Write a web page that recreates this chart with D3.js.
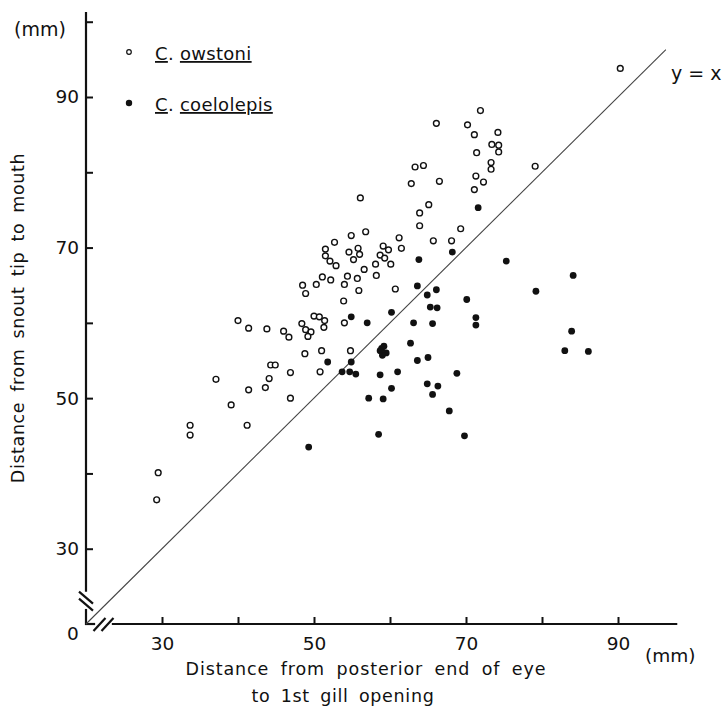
<!DOCTYPE html>
<html>
<head>
<meta charset="utf-8">
<script src="https://cdn.jsdelivr.net/npm/d3@7"></script>
<style>
  body { margin: 0; background: #fff; }
  svg text { font-family: "DejaVu Sans", sans-serif; fill: #111; }
</style>
</head>
<body>
<div id="chart"></div>
<script>
// C. owstoni (open circles): [eye-gill distance, snout-mouth distance] in mm
const owstoni = [
  [90.3, 93.8], [71.9, 88.2], [66.1, 86.5], [70.2, 86.3], [71.1, 85.0],
  [74.2, 85.3], [73.4, 83.7], [74.3, 83.6], [74.3, 82.7], [71.4, 82.6],
  [64.4, 80.9], [63.3, 80.7], [73.3, 81.3], [73.3, 80.4], [79.1, 80.8],
  [71.3, 79.5], [66.5, 78.8], [72.3, 78.7], [71.1, 77.7], [65.1, 75.7],
  [63.9, 74.6], [62.8, 78.5], [56.1, 76.6], [63.9, 72.9], [69.3, 72.5],
  [54.9, 71.6], [56.8, 72.1], [52.7, 70.7], [61.2, 71.3], [65.7, 70.9],
  [68.1, 70.9], [51.5, 69.8], [51.5, 68.9], [52.1, 68.2], [52.9, 67.6],
  [54.6, 69.4], [55.8, 69.9], [56.0, 69.1], [55.2, 68.4], [59.1, 70.2],
  [59.8, 69.7], [58.7, 69.0], [59.3, 68.6], [61.5, 69.9], [58.1, 67.8],
  [60.1, 67.8], [56.6, 67.1], [58.2, 66.3], [51.1, 66.1], [52.2, 65.7],
  [54.4, 66.2], [55.7, 65.9], [54.0, 65.1], [50.3, 65.1], [48.5, 65.0],
  [48.9, 63.9], [55.9, 64.3], [60.7, 64.5], [53.9, 62.9], [50.0, 60.9],
  [50.7, 60.8], [51.4, 60.3], [51.3, 59.4], [54.0, 60.0], [48.4, 59.9],
  [48.9, 59.1], [49.6, 58.8], [49.2, 58.2], [46.0, 58.9], [46.7, 58.1],
  [48.8, 55.9], [51.0, 56.3], [54.8, 56.3], [50.8, 53.5], [46.9, 53.4],
  [46.9, 50.0], [40.0, 60.3], [41.4, 59.3], [43.8, 59.2], [44.3, 54.4],
  [44.9, 54.4], [37.1, 52.5], [44.1, 52.6], [43.6, 51.4], [41.4, 51.1],
  [39.1, 49.1], [33.7, 46.4], [33.7, 45.1], [41.2, 46.4], [29.5, 40.1],
  [29.3, 36.5]
];

// C. coelolepis (filled circles)
const coelolepis = [
  [71.6, 75.3], [75.3, 68.2], [84.1, 66.3], [79.2, 64.2], [83.9, 58.9],
  [83.0, 56.3], [86.1, 56.2], [63.8, 68.4], [68.2, 69.4], [63.6, 64.9],
  [64.9, 63.7], [66.1, 64.4], [70.1, 63.1], [54.9, 60.8], [57.0, 60.0],
  [60.2, 61.4], [63.1, 60.0], [65.6, 59.9], [65.3, 62.1], [66.2, 62.0],
  [71.3, 60.7], [71.3, 59.7], [62.7, 57.3], [58.9, 56.6], [59.2, 56.9],
  [59.5, 56.0], [59.0, 55.7], [58.7, 56.3], [63.6, 55.0], [65.0, 55.4],
  [51.8, 54.8], [54.9, 54.8], [53.7, 53.5], [54.7, 53.5], [55.5, 53.2],
  [58.7, 53.1], [61.0, 53.5], [68.8, 53.3], [60.2, 51.3], [64.9, 51.9],
  [66.3, 51.6], [65.6, 50.5], [57.2, 50.0], [59.1, 49.9], [67.8, 48.3],
  [58.5, 45.2], [69.8, 45.0], [49.3, 43.5]
];

const xTicks = [30, 40, 50, 60, 70, 80, 90];
const yTicks = [30, 40, 50, 60, 70, 80, 90, 100];
const labelledTicks = [30, 50, 70, 90];
const identityLine = [[20, 20], [96.3, 96.3]];

const width = 724, height = 708;

const svg = d3.select("#chart")
  .append("svg")
    .attr("width", width)
    .attr("height", height);

// Scales (axes start at 20 mm, shown as a broken origin "0")
const xScale = d3.scaleLinear().domain([20, 90]).range([86, 618]);
const yScale = d3.scaleLinear().domain([20, 90]).range([624, 97]);

const fmt = d => labelledTicks.includes(d) ? d : "";

// Bottom axis
const bottomAxis = d3.axisBottom(xScale)
  .tickValues(xTicks)
  .tickSizeInner(-7)
  .tickSizeOuter(0)
  .tickPadding(9)
  .tickFormat(fmt);
const gx = svg.append("g")
  .attr("transform", `translate(0, ${yScale(20)})`)
  .call(bottomAxis);
gx.select(".domain").remove();
gx.selectAll(".tick line").attr("stroke", "#111").attr("stroke-width", 2);
gx.selectAll(".tick text").style("font-size", "18.5px").attr("dy", "0.9em");

// Left axis
const leftAxis = d3.axisLeft(yScale)
  .tickValues(yTicks)
  .tickSizeInner(-7)
  .tickSizeOuter(0)
  .tickPadding(7)
  .tickFormat(fmt);
const gy = svg.append("g")
  .attr("transform", `translate(${xScale(20)}, 0)`)
  .call(leftAxis);
gy.select(".domain").remove();
gy.selectAll(".tick line").attr("stroke", "#111").attr("stroke-width", 2);
gy.selectAll(".tick text").style("font-size", "18.5px");

// Axis lines with breaks near the origin
const axisStroke = g => g.attr("stroke", "#111").attr("stroke-width", 2.2).attr("fill", "none");
const x0 = xScale(20), y0 = yScale(20);
svg.append("line").call(axisStroke)
  .attr("x1", x0).attr("x2", x0).attr("y1", yScale(101.3)).attr("y2", yScale(24.3));
svg.append("line").call(axisStroke)
  .attr("x1", x0).attr("x2", x0).attr("y1", yScale(22.0)).attr("y2", y0 + 1);
svg.append("line").call(axisStroke)
  .attr("x1", x0 - 1).attr("x2", xScale(21.2)).attr("y1", y0).attr("y2", y0);
svg.append("line").call(axisStroke)
  .attr("x1", xScale(23.4)).attr("x2", xScale(97.8)).attr("y1", y0).attr("y2", y0);

// Break marks
[-3, 4].forEach(dy => {
  const cy = yScale(23.1) + dy;
  svg.append("line").call(axisStroke)
    .attr("x1", x0 - 7).attr("y1", cy - 6).attr("x2", x0 + 7).attr("y2", cy + 6);
});
[-4, 4].forEach(dx => {
  const cx = xScale(22.3) + dx;
  svg.append("line").call(axisStroke)
    .attr("x1", cx - 6).attr("y1", y0 + 7).attr("x2", cx + 6).attr("y2", y0 - 6);
});

svg.append("text")
  .attr("x", 73).attr("y", 640)
  .attr("text-anchor", "middle")
  .style("font-size", "18.5px")
  .text("0");

// y = x line
const line = d3.line().x(d => xScale(d[0])).y(d => yScale(d[1]));
svg.append("path")
  .attr("d", line(identityLine))
  .attr("fill", "none")
  .attr("stroke", "#444")
  .attr("stroke-width", 1.1);

svg.append("text")
  .attr("x", 671).attr("y", 80)
  .style("font-size", "19px")
  .text("y = x");

// Points
svg.append("g")
  .selectAll("circle")
  .data(owstoni)
  .join("circle")
    .attr("cx", d => xScale(d[0]))
    .attr("cy", d => yScale(d[1]))
    .attr("r", 2.9)
    .attr("fill", "#fff")
    .attr("stroke", "#111")
    .attr("stroke-width", 1.4);

svg.append("g")
  .selectAll("circle")
  .data(coelolepis)
  .join("circle")
    .attr("cx", d => xScale(d[0]))
    .attr("cy", d => yScale(d[1]))
    .attr("r", 3.4)
    .attr("fill", "#111");

// Units
svg.append("text")
  .attr("x", 14).attr("y", 36)
  .style("font-size", "19px")
  .text("(mm)");
svg.append("text")
  .attr("x", 645).attr("y", 662)
  .style("font-size", "18.5px")
  .text("(mm)");

// Axis titles
svg.append("text")
  .style("font-size", "17.5px").style("letter-spacing", "0.9px").style("word-spacing", "5px")
  .attr("x", 366).attr("y", 675)
  .attr("text-anchor", "middle")
  .text("Distance from posterior end of eye");
svg.append("text")
  .style("font-size", "17.5px").style("letter-spacing", "0.7px").style("word-spacing", "4px")
  .attr("x", 343).attr("y", 702)
  .attr("text-anchor", "middle")
  .text("to 1st gill opening");
svg.append("text")
  .style("font-size", "17.5px").style("letter-spacing", "0.6px").style("word-spacing", "4px")
  .attr("transform", "translate(24, 318) rotate(-90)")
  .attr("text-anchor", "middle")
  .text("Distance from snout tip to mouth");

// Legend
const legend = [
  { name: "owstoni", filled: false, y: 52 },
  { name: "coelolepis", filled: true, y: 103 }
];
legend.forEach(item => {
  svg.append("circle")
    .attr("cx", 129).attr("cy", item.y)
    .attr("r", item.filled ? 3.2 : 2.3)
    .attr("fill", item.filled ? "#111" : "#fff")
    .attr("stroke", "#111")
    .attr("stroke-width", item.filled ? 0 : 1.2);
  const t = svg.append("text")
    .attr("x", 155).attr("y", item.y + 8)
    .style("font-size", "18px")
    .style("letter-spacing", "0.3px");
  t.append("tspan").attr("text-decoration", "underline").text("C");
  t.append("tspan").text(". ");
  t.append("tspan").attr("text-decoration", "underline").text(item.name);
});
</script>
</body>
</html>
